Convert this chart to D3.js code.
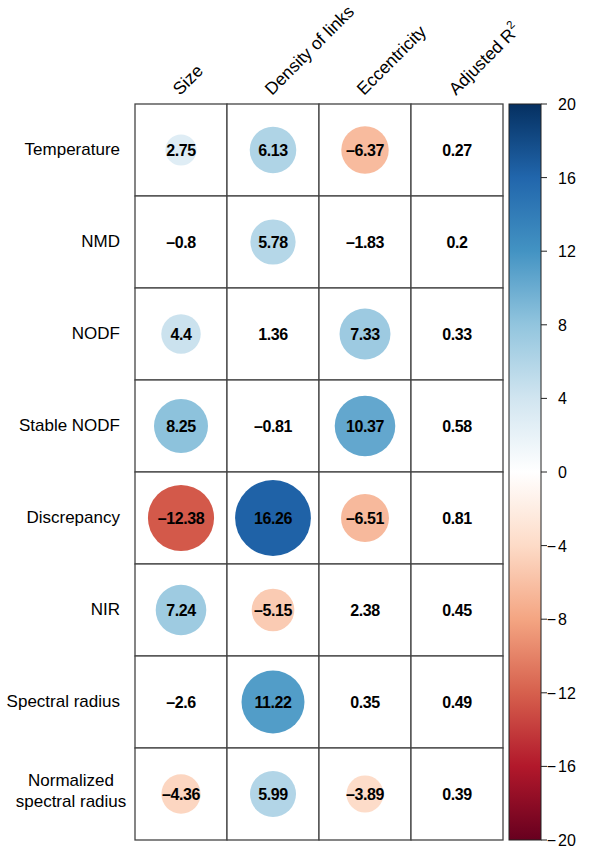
<!DOCTYPE html>
<html>
<head>
<meta charset="utf-8">
<script src="https://cdn.jsdelivr.net/npm/d3@7"></script>
<style>
  html, body { margin: 0; padding: 0; background: #fff; }
  svg { display: block; font-family: "Liberation Sans", Arial, Helvetica, sans-serif; }
</style>
</head>
<body>
<svg id="chart" width="592" height="849"></svg>
<script>
// ---- data ----
const rowLabels = ["Temperature", "NMD", "NODF", "Stable NODF", "Discrepancy", "NIR", "Spectral radius", "Normalized\nspectral radius"];
const colLabels = ["Size", "Density of links", "Eccentricity", "Adjusted R"];
const sizeValues = [2.75, -0.8, 4.4, 8.25, -12.38, 7.24, -2.6, -4.36];
const densityValues = [6.13, 5.78, 1.36, -0.81, 16.26, -5.15, 11.22, 5.99];
const eccentricityValues = [-6.37, -1.83, 7.33, 10.37, -6.51, 2.38, 0.35, -3.89];
const adjR2Values = [0.27, 0.2, 0.33, 0.58, 0.81, 0.45, 0.49, 0.39];
const sizeSignificant = [true, false, true, true, true, true, false, true];
const densitySignificant = [true, true, false, false, true, true, true, true];
const eccentricitySignificant = [true, false, true, true, true, false, false, true];
const adjR2Significant = [false, false, false, false, false, false, false, false];
const colorTicks = [-20, -16, -12, -8, -4, 0, 4, 8, 12, 16, 20];
const paletteColors = ["#67001F", "#B2182B", "#D6604D", "#F4A582", "#FDDBC7", "#FFFFFF", "#D1E5F0", "#92C5DE", "#4393C3", "#2166AC", "#053061"];

const columns = [
  { values: sizeValues, sig: sizeSignificant },
  { values: densityValues, sig: densitySignificant },
  { values: eccentricityValues, sig: eccentricitySignificant },
  { values: adjR2Values, sig: adjR2Significant }
];

// ---- layout ----
const svg = d3.select("#chart");
const gridLeft = 135, gridTop = 104, cell = 92;
const x = d3.scaleBand().domain(d3.range(colLabels.length)).range([gridLeft, gridLeft + cell * colLabels.length]);
const y = d3.scaleBand().domain(d3.range(rowLabels.length)).range([gridTop, gridTop + cell * rowLabels.length]);
const color = d3.scaleLinear().domain(colorTicks).range(paletteColors).interpolate(d3.interpolateRgb);
const rScale = d3.scaleSqrt().domain([0, 20]).range([0, cell * 0.457]);

const cells = [];
columns.forEach((c, ci) => c.values.forEach((v, ri) => cells.push({ ci, ri, v, sig: c.sig[ri] })));

// grid cells
svg.append("g").selectAll("rect").data(cells).join("rect")
  .attr("x", d => x(d.ci)).attr("y", d => y(d.ri))
  .attr("width", x.bandwidth()).attr("height", y.bandwidth())
  .attr("fill", "#fff").attr("stroke", "#444").attr("stroke-width", 1.3);

// circles
svg.append("g").selectAll("circle").data(cells.filter(d => d.sig)).join("circle")
  .attr("cx", d => x(d.ci) + x.bandwidth() / 2)
  .attr("cy", d => y(d.ri) + y.bandwidth() / 2)
  .attr("r", d => rScale(Math.abs(d.v)))
  .attr("fill", d => color(d.v));

// numbers
const fmt = v => String(v).replace("-", "\u2013");
svg.append("g").selectAll("text").data(cells).join("text")
  .attr("x", d => x(d.ci) + x.bandwidth() / 2)
  .attr("y", d => y(d.ri) + y.bandwidth() / 2 + 6)
  .attr("text-anchor", "middle")
  .attr("font-size", 16).attr("font-weight", "bold")
  .attr("letter-spacing", "-0.4px")
  .attr("fill", "#000")
  .text(d => fmt(d.v));

// row labels
const rowG = svg.append("g");
rowLabels.forEach((lab, i) => {
  const lines = lab.split("\n");
  const cy = y(i) + y.bandwidth() / 2;
  if (lines.length === 1) {
    rowG.append("text").attr("x", 120).attr("y", cy + 4.5)
      .attr("text-anchor", "end").attr("font-size", 17).text(lab);
  } else {
    lines.forEach((ln, k) => {
      rowG.append("text").attr("x", 71).attr("y", cy - 8 + k * 21)
        .attr("text-anchor", "middle").attr("font-size", 17).text(ln);
    });
  }
});

// column labels
const colG = svg.append("g");
colLabels.forEach((lab, i) => {
  const cx = x(i) + x.bandwidth() / 2;
  const t = colG.append("text")
    .attr("transform", `translate(${cx - 1},96) rotate(-45)`)
    .attr("font-size", 17.5).text(lab);
  if (i === 3) {
    t.append("tspan").attr("font-size", 11.5).attr("dy", -8).text("2");
  }
});

// colour bar
const barX = 509, barW = 32;
const barY = d3.scaleLinear().domain([-20, 20]).range([gridTop + cell * rowLabels.length, gridTop]);
const defs = svg.append("defs");
const grad = defs.append("linearGradient").attr("id", "cbar").attr("x1", 0).attr("y1", 1).attr("x2", 0).attr("y2", 0);
colorTicks.forEach((t, i) => grad.append("stop")
  .attr("offset", (t + 20) / 40).attr("stop-color", paletteColors[i]));
svg.append("rect").attr("x", barX).attr("y", barY(20))
  .attr("width", barW).attr("height", barY(-20) - barY(20))
  .attr("fill", "url(#cbar)").attr("stroke", "#222").attr("stroke-width", 1);

const tickG = svg.append("g");
colorTicks.forEach(t => {
  const ty = barY(t);
  tickG.append("line").attr("x1", barX + barW).attr("x2", barX + barW + 6)
    .attr("y1", ty).attr("y2", ty).attr("stroke", "#222").attr("stroke-width", 1);
  tickG.append("text").attr("x", 558).attr("y", ty + 6)
    .attr("font-size", 16).text(Math.abs(t));
  if (t < 0) {
    tickG.append("text").attr("x", 556).attr("y", ty + 6)
      .attr("text-anchor", "end").attr("font-size", 16).text("\u2212");
  }
});
</script>
</body>
</html>
